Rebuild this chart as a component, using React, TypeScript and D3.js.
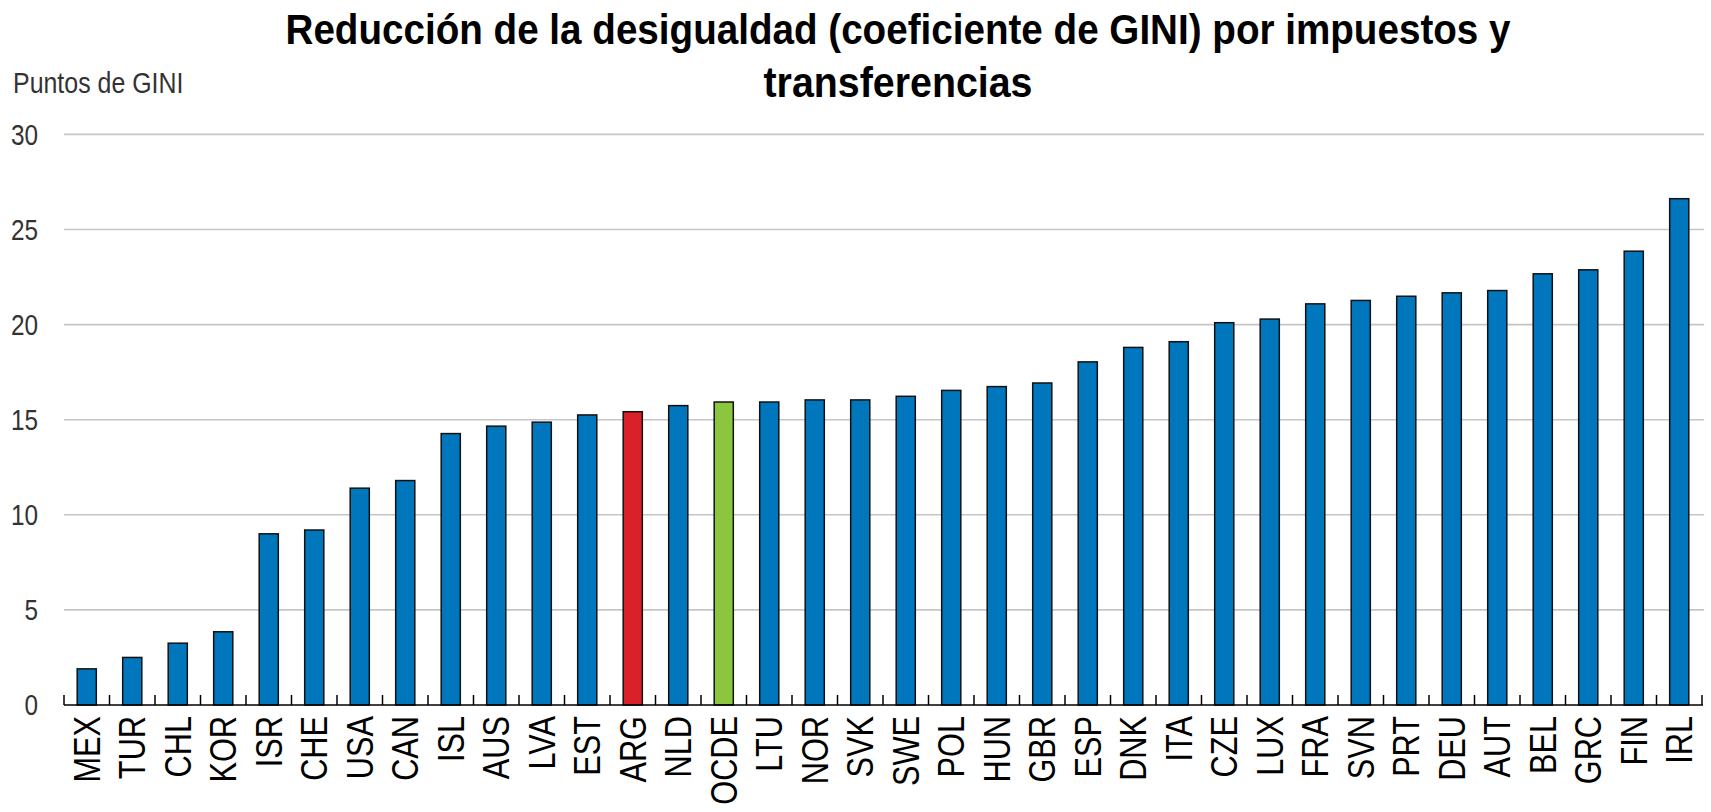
import React from "react";
import * as d3 from "d3";

const categories = ["MEX","TUR","CHL","KOR","ISR","CHE","USA","CAN","ISL","AUS","LVA","EST","ARG","NLD","OCDE","LTU","NOR","SVK","SWE","POL","HUN","GBR","ESP","DNK","ITA","CZE","LUX","FRA","SVN","PRT","DEU","AUT","BEL","GRC","FIN","IRL"];
const values = [1.9,2.5,3.25,3.85,9.0,9.2,11.4,11.8,14.27,14.66,14.87,15.25,15.42,15.74,15.93,15.93,16.04,16.04,16.23,16.54,16.74,16.93,18.04,18.8,19.1,20.1,20.29,21.09,21.27,21.49,21.67,21.79,22.67,22.88,23.86,26.62];
const yTicks = [0,5,10,15,20,25,30];
const highlight: Record<string,string> = { ARG: "#DA2028", OCDE: "#8CC63F" };
const titleLines = ["Reducción de la desigualdad (coeficiente de GINI) por impuestos y", "transferencias"];
const yAxisTitle = "Puntos de GINI";

const W = 1711, H = 812;
const left = 64, right = 1702, top = 134.4, bottom = 705;
const FONT = "'Liberation Sans', Arial, sans-serif";

export default function App() {
  const x = d3.scaleBand<string>().domain(categories).range([left, right]).padding(0);
  const y = d3.scaleLinear().domain([0, 30]).range([bottom, top]);
  const bw = x.bandwidth();
  const barW = bw * 0.42;
  const xLabelSize = 37;
  const yLabelSize = 29;
  return (
    <svg width={W} height={H} style={{ position: "absolute", left: 0, top: 0, background: "#fff" }}>
      <rect x={0} y={0} width={W} height={H} fill="#fff" />
      {/* title */}
      <text x={898} y={43.5} textAnchor="middle" fontFamily={FONT} fontWeight="bold" fontSize={43} fill="#000"
        textLength={1225} lengthAdjust="spacingAndGlyphs">{titleLines[0]}</text>
      <text x={898} y={97} textAnchor="middle" fontFamily={FONT} fontWeight="bold" fontSize={43} fill="#000"
        textLength={269} lengthAdjust="spacingAndGlyphs">{titleLines[1]}</text>
      {/* y axis title */}
      <text transform="translate(13,93) scale(0.86,1)" fontFamily={FONT} fontSize={29} fill="#333">{yAxisTitle}</text>
      {/* gridlines */}
      {yTicks.filter(t => t !== 0).map(t => (
        <line key={"g" + t} x1={left} x2={right + 2} y1={y(t)} y2={y(t)} stroke="#c6c6c6" strokeWidth={1.6} />
      ))}
      {/* y labels */}
      {yTicks.map(t => (
        <text key={"yl" + t} transform={`translate(38,${y(t)}) scale(0.84,1)`} textAnchor="end" dy="0.36em"
          fontFamily={FONT} fontSize={yLabelSize} fill="#333">{t}</text>
      ))}
      {/* bars */}
      {categories.map((c, i) => (
        <rect key={c} x={(x(c) as number) + (bw - barW) / 2} y={y(values[i])} width={barW} height={y(0) - y(values[i])}
          fill={highlight[c] || "#0077BD"} stroke="#111" strokeWidth={1.5} />
      ))}
      {/* axis */}
      <line x1={left} x2={right + 1} y1={bottom} y2={bottom} stroke="#000" strokeWidth={1.6} />
      {d3.range(categories.length + 1).map(i => {
        const tx = left + i * bw;
        return <line key={"t" + i} x1={tx} x2={tx} y1={bottom} y2={bottom - 10} stroke="#000" strokeWidth={1.5} />;
      })}
      {/* x labels */}
      {categories.map(c => {
        const cx = (x(c) as number) + bw / 2 + 0.358 * xLabelSize;
        return (
          <text key={"xl" + c} transform={`translate(${cx},716) rotate(-90) scale(0.83,1)`} textAnchor="end"
            fontFamily={FONT} fontSize={xLabelSize} fill="#000">{c}</text>
        );
      })}
    </svg>
  );
}
